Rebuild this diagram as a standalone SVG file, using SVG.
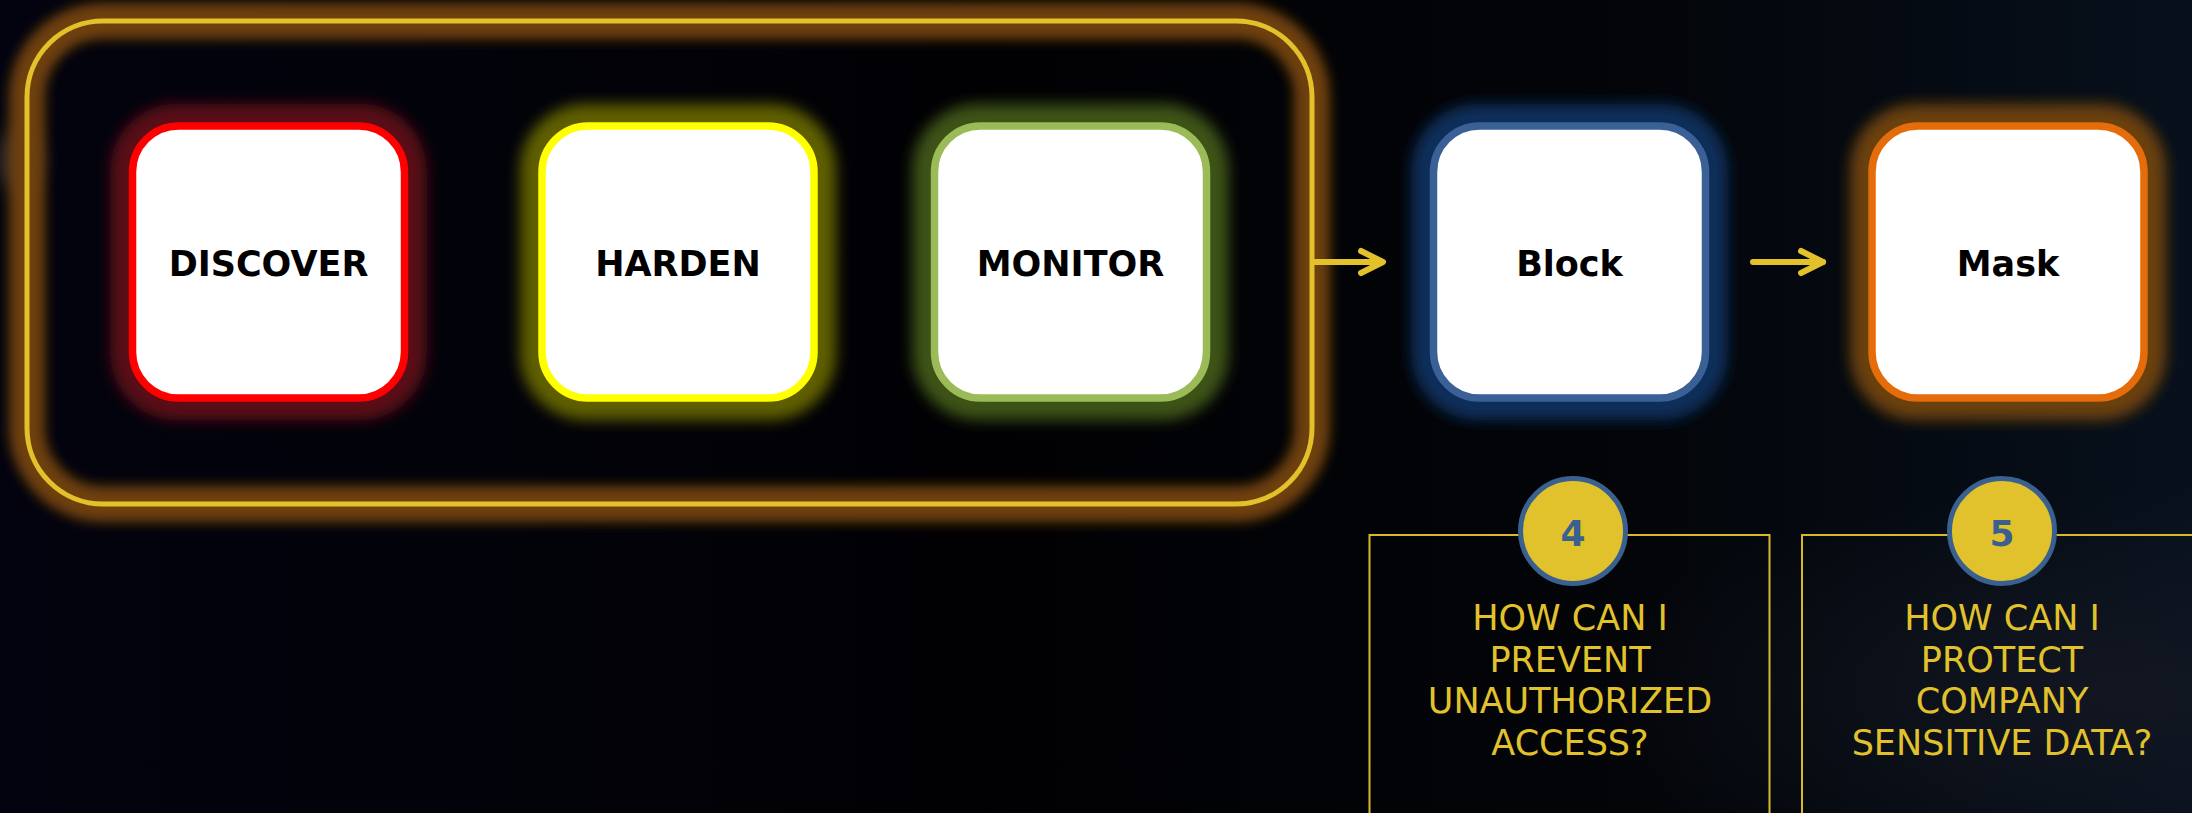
<svg xmlns="http://www.w3.org/2000/svg" width="2192" height="813" viewBox="0 0 2192 813">
  <defs>
    <linearGradient id="bg" x1="0" y1="0" x2="1" y2="0">
      <stop offset="0" stop-color="#03030f"/>
      <stop offset="0.45" stop-color="#010104"/>
      <stop offset="0.75" stop-color="#030509"/>
      <stop offset="1" stop-color="#07101c"/>
    </linearGradient>
    <radialGradient id="rb" cx="0.97" cy="0.85" r="0.25">
      <stop offset="0" stop-color="#1a1c26" stop-opacity="0.6"/>
      <stop offset="1" stop-color="#1a1c26" stop-opacity="0"/>
    </radialGradient>
    <filter id="glow" x="-30%" y="-30%" width="160%" height="160%">
      <feGaussianBlur stdDeviation="7"/>
    </filter>
    <filter id="glowC" x="-10%" y="-20%" width="120%" height="140%">
      <feGaussianBlur stdDeviation="6"/>
    </filter>
    <filter id="blob" x="-100%" y="-100%" width="300%" height="300%">
      <feGaussianBlur stdDeviation="10"/>
    </filter>
    <marker id="chev" viewBox="0 0 30 30" refX="25" refY="15" markerWidth="30" markerHeight="30" markerUnits="userSpaceOnUse" orient="auto">
      <path d="M3,4 L25,15 L3,26" fill="none" stroke="#e2c12b" stroke-width="6" stroke-linecap="round" stroke-linejoin="round"/>
    </marker>
  </defs>
  <style>
    .box { fill: #ffffff; stroke-width: 7.5; }
    .lbl { font-family: "DejaVu Sans", Verdana, sans-serif; font-weight: bold; font-size: 35px; fill: #000000; text-anchor: middle; }
    .q { font-family: "DejaVu Sans", Verdana, sans-serif; font-size: 35px; fill: #e2c22c; text-anchor: middle; }
    .num { font-family: "DejaVu Sans", Verdana, sans-serif; font-weight: bold; font-size: 36px; fill: #3a6090; text-anchor: middle; }
    .panel { fill: none; stroke: #d9b92a; stroke-width: 2; }
    .badge { fill: #e2c22c; stroke: #3a6090; stroke-width: 5; }
    .conn { fill: none; stroke: #e2c12b; stroke-width: 6; }
  </style>

  <rect width="2192" height="813" fill="url(#bg)"/>
  <rect width="2192" height="813" fill="url(#rb)"/>
  <ellipse cx="18" cy="160" rx="22" ry="30" fill="#6a5f4a" opacity="0.45" filter="url(#blob)"/>

  <g id="container">
    <rect x="27" y="21" width="1285" height="483" rx="76" fill="none" stroke="#6e3f08" stroke-width="36" filter="url(#glowC)"/>
    <rect x="27" y="21" width="1285" height="483" rx="76" fill="none" stroke="#e2c12b" stroke-width="5"/>
  </g>

  <g id="discover">
    <rect x="110.5" y="104" width="316" height="316" rx="66" fill="#5a0f17" filter="url(#glow)"/>
    <rect class="box" x="132.5" y="126" width="272" height="272" rx="46" stroke="#ff0000"/>
    <text class="lbl" x="268.5" y="276">DISCOVER</text>
  </g>

  <g id="harden">
    <rect x="520" y="104" width="316" height="316" rx="66" fill="#5f5e00" filter="url(#glow)"/>
    <rect class="box" x="542" y="126" width="272" height="272" rx="46" stroke="#ffff00"/>
    <text class="lbl" x="678" y="276">HARDEN</text>
  </g>

  <g id="monitor">
    <rect x="912.5" y="104" width="316" height="316" rx="66" fill="#3d5216" filter="url(#glow)"/>
    <rect class="box" x="934.5" y="126" width="272" height="272" rx="46" stroke="#9bbb59"/>
    <text class="lbl" x="1070.5" y="276">MONITOR</text>
  </g>

  <g id="block">
    <rect x="1411.5" y="104" width="316" height="316" rx="66" fill="#0f2e5a" filter="url(#glow)"/>
    <rect class="box" x="1433.5" y="126" width="272" height="272" rx="46" stroke="#3a6096"/>
    <text class="lbl" x="1569.5" y="276">Block</text>
  </g>

  <g id="mask">
    <rect x="1850" y="104" width="316" height="316" rx="66" fill="#6a400f" filter="url(#glow)"/>
    <rect class="box" x="1872" y="126" width="272" height="272" rx="46" stroke="#e46c0a"/>
    <text class="lbl" x="2008" y="276">Mask</text>
  </g>

  <g id="connectors">
    <line class="conn" x1="1312" y1="262" x2="1383" y2="262" marker-end="url(#chev)"/>
    <line class="conn" x1="1753" y1="262" x2="1823" y2="262" marker-end="url(#chev)" stroke-linecap="round"/>
  </g>

  <g id="panel4">
    <rect class="panel" x="1369.5" y="535" width="400" height="320"/>
    <circle class="badge" cx="1573" cy="531" r="52.5"/>
    <text class="num" x="1573" y="546">4</text>
    <text class="q" x="1570" y="630">HOW CAN I</text>
    <text class="q" x="1570" y="672">PREVENT</text>
    <text class="q" x="1570" y="713">UNAUTHORIZED</text>
    <text class="q" x="1570" y="755">ACCESS?</text>
  </g>

  <g id="panel5">
    <rect class="panel" x="1802" y="535" width="420" height="320"/>
    <circle class="badge" cx="2002" cy="531" r="52.5"/>
    <text class="num" x="2002" y="546">5</text>
    <text class="q" x="2002" y="630">HOW CAN I</text>
    <text class="q" x="2002" y="672">PROTECT</text>
    <text class="q" x="2002" y="713">COMPANY</text>
    <text class="q" x="2002" y="755">SENSITIVE DATA?</text>
  </g>
</svg>
